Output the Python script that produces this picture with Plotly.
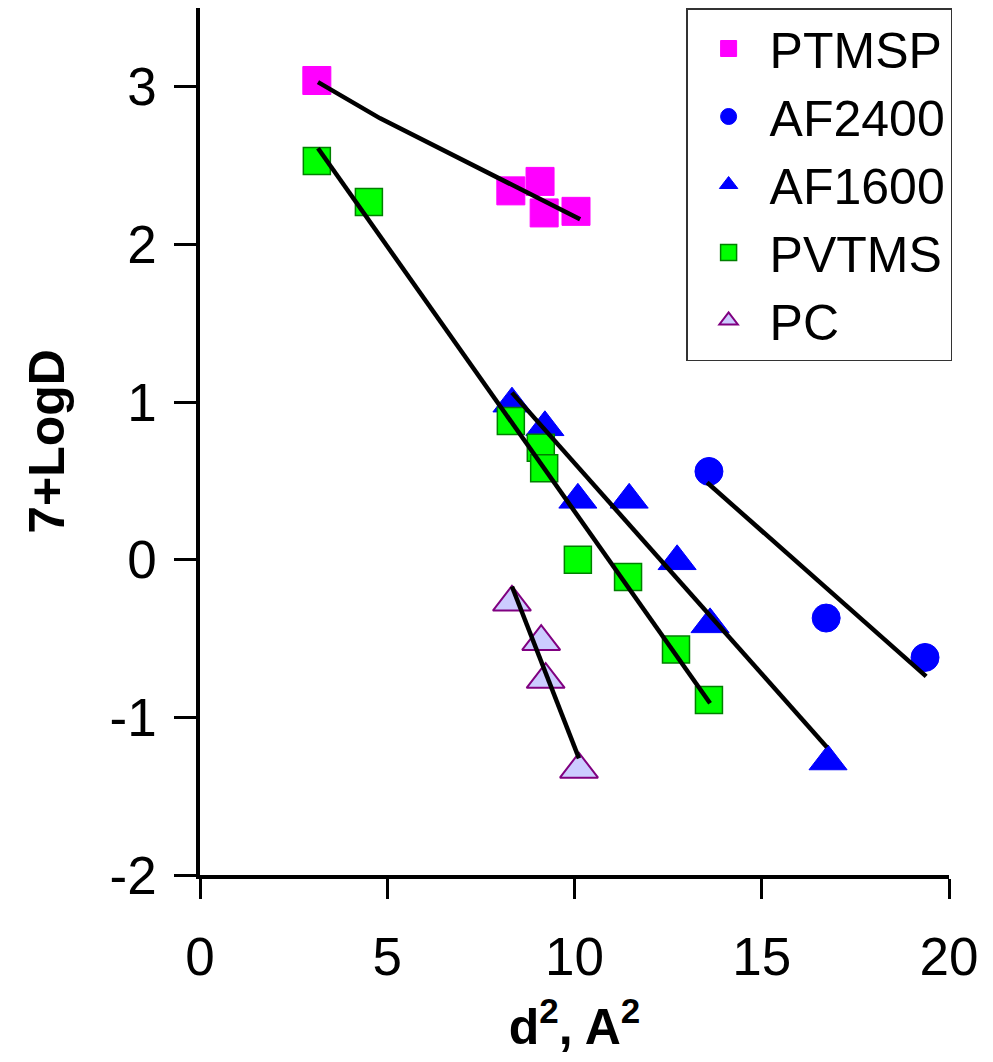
import plotly.graph_objects as go

# ---- data ----
ptmsp_x = [3.12, 8.30, 9.08, 9.19, 10.04]
ptmsp_y = [3.04, 2.34, 2.40, 2.20, 2.21]

af2400_x = [13.59, 16.72, 19.36]
af2400_y = [0.56, -0.37, -0.62]

af1600_x = [8.33, 9.21, 10.09, 11.46, 12.74, 13.62, 16.77]
af1600_y = [0.99, 0.84, 0.38, 0.38, -0.01, -0.41, -1.28]

pvtms_x = [3.12, 4.51, 8.30, 9.10, 9.19, 10.09, 11.43, 12.71, 13.59]
pvtms_y = [2.53, 2.27, 0.88, 0.71, 0.58, 0.00, -0.11, -0.57, -0.89]

pc_x = [8.33, 9.11, 9.23, 10.12]
pc_y = [-0.27, -0.52, -0.76, -1.33]

# fitted trend lines (end points)
fit_ptmsp_x = [3.15, 4.81, 10.15]
fit_ptmsp_y = [3.03, 2.80, 2.16]
fit_af2400_x = [13.54, 19.39]
fit_af2400_y = [0.49, -0.74]
fit_af1600_x = [8.33, 16.74]
fit_af1600_y = [1.06, -1.19]
fit_pvtms_x = [3.15, 13.62]
fit_pvtms_y = [2.61, -0.91]
fit_pc_x = [8.33, 10.12]
fit_pc_y = [-0.17, -1.26]

x_ticks = [0, 5, 10, 15, 20]
y_ticks = [-2, -1, 0, 1, 2, 3]

FONT = "Arial, Liberation Sans, sans-serif"

fig = go.Figure()

fig.add_trace(go.Scatter(x=ptmsp_x, y=ptmsp_y, mode="markers", name="PTMSP",
                         marker=dict(symbol="square", size=28, color="#FF00FF",
                                     line=dict(color="#FF00FF", width=1))))
fig.add_trace(go.Scatter(x=af2400_x, y=af2400_y, mode="markers", name="AF2400",
                         marker=dict(symbol="circle", size=28, color="#0000FF",
                                     line=dict(color="#0000FF", width=1))))
fig.add_trace(go.Scatter(x=af1600_x, y=af1600_y, mode="markers", name="AF1600",
                         marker=dict(symbol="triangle-up", size=33, color="#0000FF",
                                     line=dict(color="#0000FF", width=1))))
fig.add_trace(go.Scatter(x=pvtms_x, y=pvtms_y, mode="markers", name="PVTMS",
                         marker=dict(symbol="square", size=27, color="#00FF00",
                                     line=dict(color="#008000", width=1.5))))
fig.add_trace(go.Scatter(x=pc_x, y=pc_y, mode="markers", name="PC",
                         marker=dict(symbol="triangle-up", size=33, color="#CCCCFF",
                                     line=dict(color="#800080", width=2))))

for fx, fy in [(fit_ptmsp_x, fit_ptmsp_y), (fit_af2400_x, fit_af2400_y),
               (fit_af1600_x, fit_af1600_y), (fit_pvtms_x, fit_pvtms_y),
               (fit_pc_x, fit_pc_y)]:
    fig.add_trace(go.Scatter(x=fx, y=fy, mode="lines", showlegend=False,
                             line=dict(color="black", width=4.5)))

fig.update_layout(
    width=993, height=1062,
    margin=dict(l=200, r=44, t=8, b=187),
    paper_bgcolor="white", plot_bgcolor="white",
    font=dict(family=FONT, color="black", size=52),
    showlegend=True,
    legend=dict(x=0.649, y=1.0, xanchor="left", yanchor="top",
                bgcolor="white", bordercolor="#333333", borderwidth=1.5,
                font=dict(family=FONT, size=50, color="black"),
                itemwidth=72, tracegroupgap=0),
)

fig.update_xaxes(range=[0, 20], tickvals=x_ticks, ticktext=[str(v) for v in x_ticks],
                 showgrid=False, zeroline=False, showline=True, linecolor="black",
                 linewidth=3.5, ticks="outside", ticklen=20, tickwidth=3, tickcolor="black",
                 tickfont=dict(family=FONT, size=53), ticklabelstandoff=13,
                 title=dict(text="<b>d<sup>2</sup>, A<sup>2</sup></b>",
                            font=dict(family=FONT, size=50), standoff=25))
fig.update_yaxes(range=[-2, 3.5], tickvals=y_ticks, ticktext=[str(v) for v in y_ticks],
                 showgrid=False, zeroline=False, showline=True, linecolor="black",
                 linewidth=3.5, ticks="outside", ticklen=22, tickwidth=3, tickcolor="black",
                 tickfont=dict(family=FONT, size=53), ticklabelstandoff=7,
                 title=dict(text="<b>7+LogD</b>", font=dict(family=FONT, size=50),
                            standoff=30))

fig.write_html("out.html")
